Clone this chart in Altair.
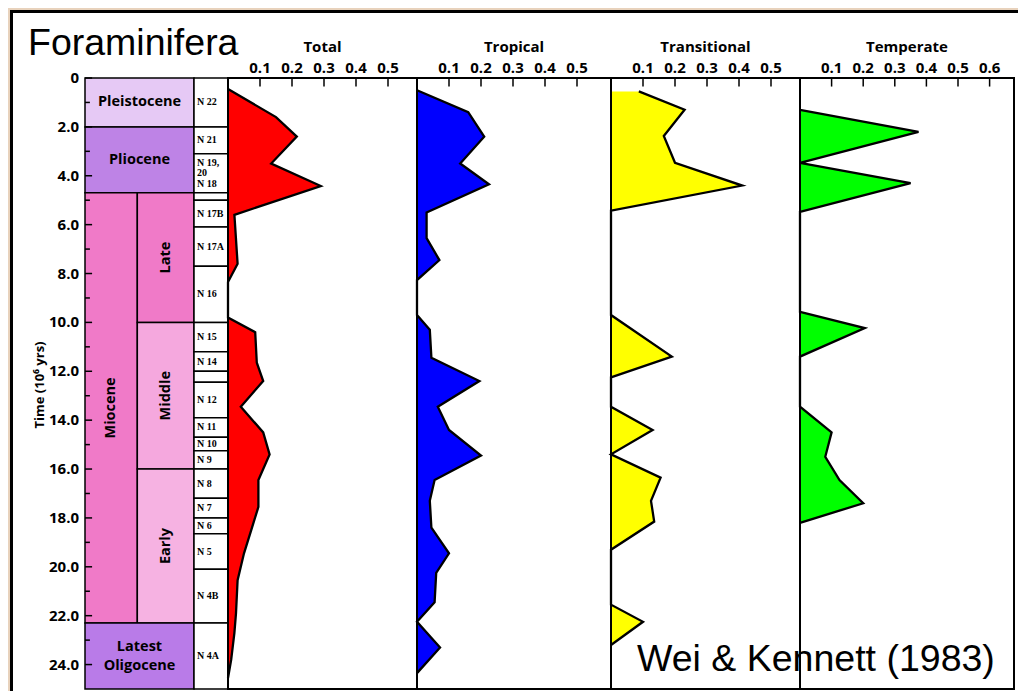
import altair as alt
import pandas as pd

# ---------------- data (time in Myr, relative abundance) ----------------
total_time = [0.45, 1.6, 2.4, 3.5, 4.42, 5.6, 7.6, 8.35, 9.8, 10.4, 11.65, 12.4, 13.45,
              14.5, 15.4, 16.45, 17.55, 18.4, 19.45, 20.55, 21.9, 22.7, 23.8, 24.55]
total_val = [0.0, 0.15, 0.215, 0.135, 0.29, 0.02, 0.03, 0.0, 0.0, 0.085, 0.09, 0.11, 0.04,
             0.11, 0.13, 0.095, 0.095, 0.075, 0.05, 0.03, 0.025, 0.02, 0.01, 0.0]

trop_time = [0.5, 1.4, 2.4, 3.5, 4.35, 5.5, 6.55, 7.45, 8.27, 9.7, 10.3, 11.45, 12.4,
             13.45, 14.4, 15.45, 16.45, 17.3, 18.4, 19.45, 20.25, 21.45, 22.25, 23.3, 24.35]
trop_val = [0.0, 0.16, 0.21, 0.135, 0.225, 0.03, 0.03, 0.07, 0.0, 0.0, 0.04, 0.045, 0.195,
            0.065, 0.1, 0.2, 0.055, 0.04, 0.045, 0.1, 0.06, 0.055, 0.0, 0.072, 0.0]

trans_time = [0.55, 1.3, 2.37, 3.47, 4.4, 5.43, 9.7, 11.4, 12.25, 13.45, 14.4, 15.4,
              16.35, 17.3, 18.15, 19.3, 21.55, 22.25, 23.2]
trans_val = [0.087, 0.23, 0.165, 0.2, 0.41, 0.0, 0.0, 0.19, 0.0, 0.0, 0.13, 0.0,
             0.155, 0.125, 0.135, 0.0, 0.0, 0.1, 0.0]

temp_time = [1.3, 2.2, 3.47, 4.3, 5.48, 9.57, 10.23, 11.4, 13.45, 14.5, 15.5, 16.45, 17.4, 18.2]
temp_val = [0.0, 0.375, 0.0, 0.35, 0.0, 0.0, 0.205, 0.0, 0.0, 0.1, 0.08, 0.125, 0.2, 0.0]

epoch_names = ["Pleistocene", "Pliocene", "Miocene", "Late", "Middle", "Early", "Latest\nOligocene"]
epoch_start = [0.0, 2.0, 4.7, 4.7, 10.0, 16.0, 22.3]
epoch_end = [2.0, 4.7, 22.3, 10.0, 16.0, 22.3, 25.0]
epoch_kind = ["full", "full", "outer", "inner", "inner", "inner", "full"]
epoch_colors = ["#e6c9f5", "#be83e6", "#f07ac8", "#f07ac8", "#f5a8de", "#f6b2e2", "#b97be8"]

zone_names = ["N 22", "N 21", "N 19,\n20\nN 18", "", "N 17B", "N 17A", "N 16", "N 15", "N 14", "",
              "N 12", "N 11", "N 10", "N 9", "N 8", "N 7", "N 6", "N 5", "N 4B", "N 4A"]
zone_start = [0.0, 2.0, 3.1, 4.7, 5.0, 6.1, 7.7, 10.0, 11.2, 12.0, 12.45, 13.9, 14.7, 15.25,
              16.0, 17.2, 18.0, 18.65, 20.1, 22.3]
zone_end = [2.0, 3.1, 4.7, 5.0, 6.1, 7.7, 10.0, 11.2, 12.0, 12.45, 13.9, 14.7, 15.25, 16.0,
            17.2, 18.0, 18.65, 20.1, 22.3, 25.0]

major_ticks = [0, 2, 4, 6, 8, 10, 12, 14, 16, 18, 20, 22, 24]
minor_ticks = [1, 3, 5, 7, 9, 11, 13, 15, 17, 19, 21, 23]
tick5 = [0.1, 0.2, 0.3, 0.4, 0.5]
tick6 = [0.1, 0.2, 0.3, 0.4, 0.5, 0.6]

# ---------------- helpers ----------------
FONT = "Open Sans"
y_scale = alt.Scale(domain=[0, 25], range=[68, 679], nice=False, zero=False)
ex_scale = alt.Scale(domain=[0, 1], range=[75, 184], nice=False, zero=False)
zx_scale = alt.Scale(domain=[0, 1], range=[184, 218], nice=False, zero=False)


def Yf(field):
    return alt.Y(field, type="quantitative", scale=y_scale, axis=None)


# ---- epoch column ----
ep = pd.DataFrame({"name": epoch_names, "start": epoch_start, "end": epoch_end, "kind": epoch_kind})
ep["x0"] = ep["kind"].map({"full": 0.0, "outer": 0.0, "inner": 0.48})
ep["x1"] = ep["kind"].map({"full": 1.0, "outer": 0.48, "inner": 1.0})
ep["xm"] = (ep["x0"] + ep["x1"]) / 2
ep["tm"] = (ep["start"] + ep["end"]) / 2
ep["rot"] = ep["kind"] != "full"
ep["multi"] = ep["name"].str.contains("\n")

epoch_rect = alt.Chart(ep).mark_rect(stroke="black", strokeWidth=1.5).encode(
    x=alt.X("x0:Q", scale=ex_scale, axis=None),
    x2="x1:Q",
    y=Yf("start"),
    y2="end:Q",
    fill=alt.Fill("name:N", scale=alt.Scale(domain=epoch_names, range=epoch_colors), legend=None),
)
epoch_text_h = alt.Chart(ep[~ep["rot"] & ~ep["multi"]]).mark_text(
    font=FONT, fontWeight="bold", fontSize=14.5, align="center", baseline="middle", color="black"
).encode(x=alt.X("xm:Q", scale=ex_scale, axis=None), y=Yf("tm"), text="name:N")
epoch_text_m = alt.Chart(ep[ep["multi"]]).mark_text(
    font=FONT, fontWeight="bold", fontSize=14.5, lineBreak="\n", lineHeight=19, dy=-9.5,
    align="center", baseline="middle", color="black"
).encode(x=alt.X("xm:Q", scale=ex_scale, axis=None), y=Yf("tm"), text="name:N")
epoch_text_v = alt.Chart(ep[ep["rot"]]).mark_text(
    font=FONT, fontWeight="bold", fontSize=14.5, angle=270,
    align="center", baseline="middle", color="black"
).encode(x=alt.X("xm:Q", scale=ex_scale, axis=None), y=Yf("tm"), text="name:N")

# time axis: inward ticks, labels, title
ymaj = pd.DataFrame({"t": major_ticks})
ymaj["label"] = ["0" if v == 0 else f"{v:.1f}" for v in major_ticks]
major = alt.Chart(ymaj).mark_rule(color="black", strokeWidth=1.5).encode(
    x=alt.XDatum(0, type="quantitative", scale=ex_scale, axis=None),
    x2=alt.X2Datum(0.065),
    y=Yf("t"),
)
minor = alt.Chart(pd.DataFrame({"t": minor_ticks})).mark_rule(color="black", strokeWidth=1.5).encode(
    x=alt.XDatum(0, type="quantitative", scale=ex_scale, axis=None),
    x2=alt.X2Datum(0.045),
    y=Yf("t"),
)
ylabels = alt.Chart(ymaj).mark_text(
    font=FONT, fontWeight="bold", fontSize=15, align="right", baseline="middle", color="black"
).encode(x=alt.value(69), y=Yf("t"), text="label:N")
ytitle = alt.Chart(pd.DataFrame({"label": ["Time (10⁶ yrs)"]})).mark_text(
    font=FONT, fontWeight="bold", fontSize=13, angle=270, align="center", baseline="middle",
    color="black"
).encode(x=alt.value(30), y=alt.value(375), text="label:N")

epoch_layer = alt.layer(epoch_rect, epoch_text_h, epoch_text_m, epoch_text_v,
                        major, minor, ylabels, ytitle)

# ---- zone column ----
zn = pd.DataFrame({"name": zone_names, "start": zone_start, "end": zone_end})
zn["tm"] = (zn["start"] + zn["end"]) / 2
zn["multi"] = zn["name"].str.contains("\n")
zone_rect = alt.Chart(zn).mark_rect(fill="white", stroke="black", strokeWidth=1.5).encode(
    x=alt.XDatum(0, type="quantitative", scale=zx_scale, axis=None),
    x2=alt.X2Datum(1),
    y=Yf("start"),
    y2="end:Q",
)
zone_text = alt.Chart(zn[~zn["multi"]]).mark_text(
    font="Liberation Serif", fontWeight="bold", fontSize=10,
    align="left", baseline="middle", color="black"
).encode(
    x=alt.XDatum(0.09, type="quantitative", scale=zx_scale, axis=None),
    y=Yf("tm"),
    text="name:N",
)
zone_text_m = alt.Chart(zn[zn["multi"]]).mark_text(
    font="Liberation Serif", fontWeight="bold", fontSize=10, lineBreak="\n", lineHeight=10.5,
    dy=-10.5, align="left", baseline="middle", color="black"
).encode(
    x=alt.XDatum(0.09, type="quantitative", scale=zx_scale, axis=None),
    y=Yf("tm"),
    text="name:N",
)
zone_layer = alt.layer(zone_rect, zone_text, zone_text_m)


# ---- data panels ----
def panel(times, vals, color, lo, hi, dmax, title, ticks):
    df = pd.DataFrame({"t": times, "v": vals, "i": list(range(len(times)))})
    xs = alt.Scale(domain=[0, dmax], range=[lo, hi], nice=False, zero=False)
    area = alt.Chart(df).mark_area(orient="horizontal", color=color, opacity=1).encode(
        x=alt.X("v:Q", scale=xs, axis=None, stack=None),
        y=Yf("t"),
    )
    line = alt.Chart(df).mark_line(color="black", strokeWidth=2.3).encode(
        x=alt.X("v:Q", scale=xs, axis=None),
        y=Yf("t"),
        order="i:Q",
    )
    frame = alt.Chart(pd.DataFrame({"k": [0]})).mark_rect(
        fill="transparent", stroke="black", strokeWidth=2
    ).encode(
        x=alt.XDatum(0, type="quantitative", scale=xs, axis=None),
        x2=alt.X2Datum(dmax),
        y=alt.YDatum(0, type="quantitative", scale=y_scale, axis=None),
        y2=alt.Y2Datum(25),
    )
    tdf = pd.DataFrame({"v": ticks})
    tdf["label"] = [f"{v:.1f}" for v in ticks]
    tick_rules = alt.Chart(tdf).mark_rule(color="black", strokeWidth=1.5).encode(
        x=alt.X("v:Q", scale=xs, axis=None),
        y=alt.YDatum(0, type="quantitative", scale=y_scale, axis=None),
        y2=alt.Y2Datum(0.35),
    )
    tick_labels = alt.Chart(tdf).mark_text(
        font=FONT, fontWeight="bold", fontSize=15, align="center", baseline="alphabetic",
        color="black"
    ).encode(x=alt.X("v:Q", scale=xs, axis=None), y=alt.value(63), text="label:N")
    ttl = alt.Chart(pd.DataFrame({"label": [title], "c": [dmax / 2]})).mark_text(
        font=FONT, fontWeight="bold", fontSize=15, align="center", baseline="alphabetic",
        color="black"
    ).encode(x=alt.X("c:Q", scale=xs, axis=None), y=alt.value(42), text="label:N")
    return alt.layer(area, line, frame, tick_rules, tick_labels, ttl)


p_total = panel(total_time, total_val, "#ff0000", 218, 407, 189 / 320, "Total", tick5)
p_trop = panel(trop_time, trop_val, "#0000ff", 407, 601, 194 / 320, "Tropical", tick5)
p_trans = panel(trans_time, trans_val, "#ffff00", 601, 790, 189 / 320, "Transitional", tick5)
p_temp = panel(temp_time, temp_val, "#00ff00", 790, 1004, 214 / 316, "Temperate", tick6)

# ---- annotations and frame ----
one = pd.DataFrame({"k": [0]})
frame_left = alt.Chart(one).mark_rule(color="black", strokeWidth=3).encode(
    x=alt.value(1.5), y=alt.value(0), y2=alt.value(700))
frame_top = alt.Chart(one).mark_rule(color="black", strokeWidth=3).encode(
    x=alt.value(0), x2=alt.value(1010), y=alt.value(1.5))
title_txt = alt.Chart(pd.DataFrame({"label": ["Foraminifera"]})).mark_text(
    font="Liberation Sans", fontSize=37.5, align="left", baseline="alphabetic", color="black"
).encode(text="label:N", x=alt.value(18), y=alt.value(45))
credit_txt = alt.Chart(pd.DataFrame({"label": ["Wei & Kennett (1983)"]})).mark_text(
    font="Liberation Sans", fontSize=37.5, align="left", baseline="alphabetic", color="black"
).encode(text="label:N", x=alt.value(627), y=alt.value(661))

chart = alt.layer(
    epoch_layer, zone_layer, p_total, p_trop, p_trans, p_temp,
    frame_left, frame_top, title_txt, credit_txt
).resolve_scale(x="independent").properties(
    width=1008, height=681,
    autosize=alt.AutoSizeParams(type="none"),
    padding={"left": 2, "top": 2, "right": 0, "bottom": 0},
    background="#e8d2bc",
).configure_view(fill="white", stroke="transparent")

chart.save("out.html", embed_options={"renderer": "svg", "actions": False})
